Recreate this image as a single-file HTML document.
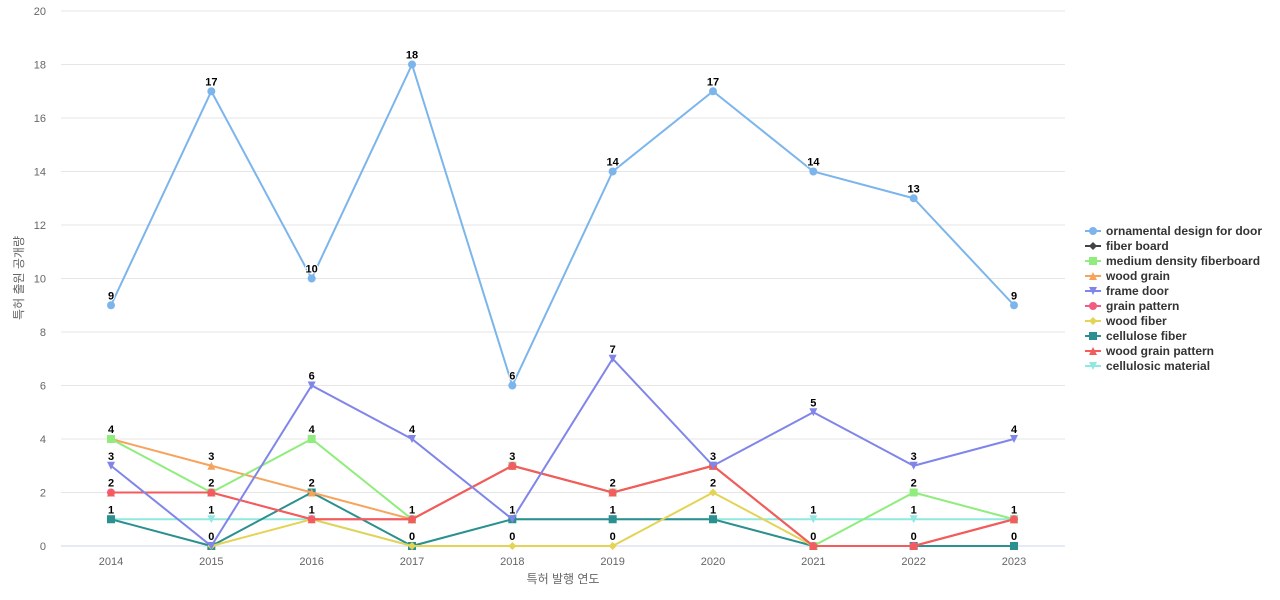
<!DOCTYPE html>
<html><head><meta charset="utf-8"><style>
body{margin:0;background:#fff;font-family:"Liberation Sans","Noto Sans CJK KR",sans-serif}
svg{display:block}
</style></head><body>
<svg id="chart" width="1280" height="600" xmlns="http://www.w3.org/2000/svg"></svg>
<script>
const years = [2014,2015,2016,2017,2018,2019,2020,2021,2022,2023];
const yTicks = [0,2,4,6,8,10,12,14,16,18,20];
const seriesNames = ["ornamental design for door","fiber board","medium density fiberboard","wood grain","frame door","grain pattern","wood fiber","cellulose fiber","wood grain pattern","cellulosic material"];
const sOrnamental = [9,17,10,18,6,14,17,14,13,9];
const sFiberBoard = [null,null,null,null,null,null,null,null,null,null];
const sMDF = [4,2,4,1,3,2,3,0,2,1];
const sWoodGrain = [4,3,2,1,3,2,3,0,0,1];
const sFrameDoor = [3,0,6,4,1,7,3,5,3,4];
const sGrainPattern = [2,2,1,1,3,2,3,0,0,1];
const sWoodFiber = [null,0,1,0,0,0,2,0,null,null];
const sCelluloseFiber = [1,0,2,0,1,1,1,0,0,0];
const sWoodGrainPattern = [2,2,1,1,3,2,3,0,0,1];
const sCellulosic = [1,1,1,0,1,1,1,1,1,1];
const allSeries = [sOrnamental,sFiberBoard,sMDF,sWoodGrain,sFrameDoor,sGrainPattern,sWoodFiber,sCelluloseFiber,sWoodGrainPattern,sCellulosic];
const colors = ["#7cb5ec","#434348","#90ed7d","#f7a35c","#8085e9","#f15c80","#e4d354","#2b908f","#f45b5b","#91e8e1"];
const shapes = ["circle","diamond","square","triangle","tdown","circle","diamond","square","triangle","tdown"];

const NS="http://www.w3.org/2000/svg";
const svg=document.getElementById('chart');
const X0=111,X1=1014,Y0=546,Y1=11,L=61,R=1065;
const xS=i=>X0+(X1-X0)*i/(years.length-1);
const yS=v=>Y0-(Y0-Y1)*v/20;
function mk(t,a,p){const e=document.createElementNS(NS,t);for(const k in a)e.setAttribute(k,a[k]);(p||svg).appendChild(e);return e;}
function marker(shape,x,y,c,g){
  if(shape==="circle")return mk('circle',{cx:x,cy:y,r:4,fill:c},g);
  if(shape==="square")return mk('rect',{x:x-4,y:y-4,width:8,height:8,fill:c},g);
  if(shape==="diamond")return mk('path',{d:`M${x} ${y-4}L${x+4} ${y}L${x} ${y+4}L${x-4} ${y}Z`,fill:c},g);
  if(shape==="triangle")return mk('path',{d:`M${x} ${y-4}L${x+4} ${y+4}L${x-4} ${y+4}Z`,fill:c},g);
  return mk('path',{d:`M${x-4} ${y-4}L${x+4} ${y-4}L${x} ${y+4}Z`,fill:c},g);
}
yTicks.forEach(t=>{
  const l=mk('line',{x1:L,x2:R,y1:yS(t),y2:yS(t),stroke:t===0?"#ccd6eb":"#e6e6e6","stroke-width":1});
  
  
  const tx=mk('text',{x:46,y:yS(t)+4,"text-anchor":"end","font-size":11,fill:"#666"});
  tx.textContent=t;
  
  
});
years.forEach((y,i)=>{
  const tx=mk('text',{x:xS(i),y:565,"text-anchor":"middle","font-size":11,fill:"#666"});
  tx.textContent=y;
  
  
});
const xt=mk('text',{x:563,y:583,"text-anchor":"middle","font-size":12,fill:"#666"});
xt.textContent="특허 발행 연도";


const yt=mk('text',{x:0,y:0,"text-anchor":"middle","font-size":12,fill:"#666",transform:"translate(23,278) rotate(-90)"});
yt.textContent="특허 출원 공개량";



const order=[1,9,7,6,3,2,5,8,4,0];
order.forEach(s=>{
  const g=mk('g',{});
  
  
  let d='',pen=false;
  allSeries[s].forEach((v,i)=>{
    if(v===null){pen=false;return;}
    d+=(pen?'L':'M')+xS(i)+' '+yS(v);pen=true;
  });
  if(d)mk('path',{d:d,fill:"none",stroke:colors[s],"stroke-width":2},g);
  allSeries[s].forEach((v,i)=>{
    if(v===null)return;
    const m=marker(shapes[s],xS(i),yS(v),colors[s],g);
    
    
  });
});
order.forEach(s=>{
  allSeries[s].forEach((v,i)=>{
    if(v===null)return;
    const t=mk('text',{x:xS(i),y:yS(v)-6,"text-anchor":"middle","font-size":11,"font-weight":"bold",fill:"#000",stroke:"#fff","stroke-width":2,"paint-order":"stroke"});
    t.textContent=v;
    
    
  });
});
seriesNames.forEach((n,s)=>{
  const y=231+s*15;
  const g=mk('g',{});
  
  
  mk('line',{x1:1085,x2:1101,y1:y,y2:y,stroke:colors[s],"stroke-width":2},g);
  marker(shapes[s],1093,y,colors[s],g);
  const t=mk('text',{x:1106,y:y+4,"font-size":12,"font-weight":"bold",fill:"#333"},g);
  t.textContent=n;
});
</script>
</body></html>
